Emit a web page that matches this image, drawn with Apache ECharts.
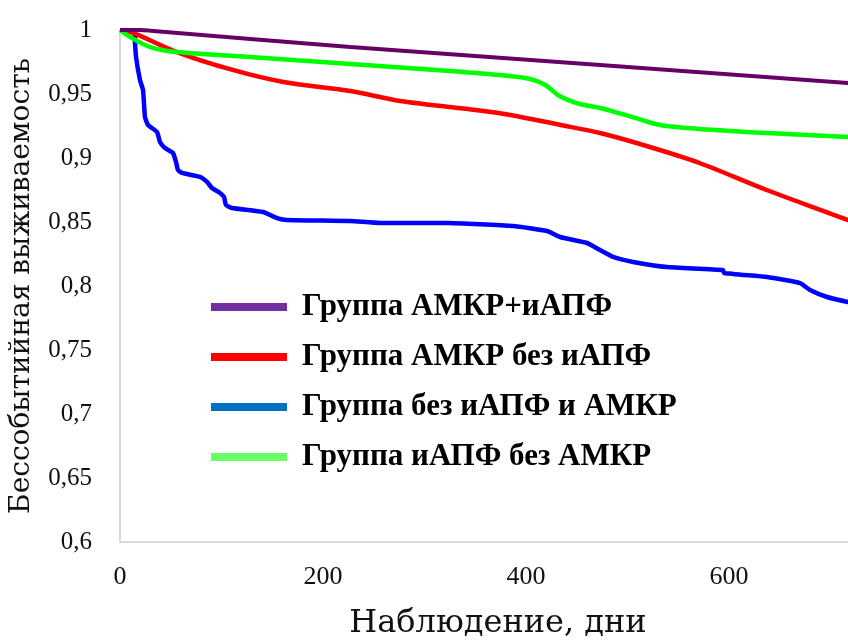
<!DOCTYPE html>
<html>
<head>
<meta charset="utf-8">
<script src="https://cdn.jsdelivr.net/npm/echarts@6/dist/echarts.min.js"></script>
<style>html,body{margin:0;padding:0;background:#fff;}#main{width:848px;height:644px;}</style>
</head>
<body>
<div id="main"></div>
<script>
// Series names
const seriesNames = ['Группа АМКР+иАПФ', 'Группа АМКР без иАПФ', 'Группа без иАПФ и АМКР', 'Группа иАПФ без АМКР'];
// [days, survival]
const groupAmkrAce = [[0,1],[20,1],[30,0.9995],[227,0.9867],[473,0.9727],[717,0.9586],[740,0.9573]];
const groupAmkrNoAce = [[0,1],[12.8,0.9977],[56,0.9828],[111,0.9688],[161,0.9594],[227,0.9523],[276,0.9445],[374,0.935],[434,0.9258],[473,0.9195],[522,0.9086],[571,0.8961],[637,0.875],[717,0.8516],[740,0.844]];
const groupNone = [[0,1],[14,0.9995],[14.8,0.9898],[15.8,0.9789],[19.7,0.9609],[22.7,0.9531],[24.6,0.932],[27.6,0.9258],[36.5,0.9203],[39.4,0.9125],[44.3,0.9078],[52.2,0.9039],[55.2,0.8969],[57.1,0.8906],[61.1,0.8883],[78.8,0.8852],[85.7,0.8813],[90.6,0.8766],[98.5,0.8727],[102.5,0.8695],[104.4,0.8633],[110.3,0.8609],[140.9,0.8578],[154.7,0.8531],[164.5,0.8516],[226.6,0.8508],[256.2,0.8492],[322.2,0.8492],[387.2,0.8469],[420.7,0.843],[433.5,0.8383],[460.1,0.8336],[472.9,0.8281],[485.7,0.8227],[505.4,0.8188],[538.9,0.8148],[594.1,0.8125],[595.1,0.8102],[637.4,0.807],[670,0.8023],[679.8,0.7969],[696.6,0.7914],[717.2,0.7875],[740,0.784]];
const groupAceNoAmkr = [[0,1],[9.9,0.9945],[29.6,0.9867],[56,0.9828],[128,0.9789],[227,0.9734],[325,0.968],[374,0.9648],[404,0.9617],[419,0.957],[433,0.9484],[453,0.9422],[473,0.9391],[505,0.932],[532,0.9258],[571,0.9227],[637,0.9195],[717,0.9164],[740,0.9158]];
// Axis ticks
const xTicks = { min: 0, max: 800, interval: 200 };
const yTicks = { min: 0.6, max: 1, interval: 0.05 };

const lineColors = ['#660066', '#ff0000', '#0000ff', '#00ff00'];
const legendColors = ['#7030a0', '#ff0000', '#0070c0', '#66ff66'];
const allData = [groupAmkrAce, groupAmkrNoAce, groupNone, groupAceNoAmkr];

const chart = echarts.init(document.getElementById('main'));
chart.setOption({
  animation: false,
  backgroundColor: '#fff',
  grid: { left: 120, top: 30, width: 812, height: 512, containLabel: false, outerBoundsMode: 'none' },
  legend: {
    orient: 'vertical',
    left: 206,
    top: 284,
    itemWidth: 76,
    itemHeight: 8,
    itemGap: 14,
    icon: 'rect',
    textStyle: { fontFamily: 'Liberation Serif', fontWeight: 'bold', fontSize: 31, color: '#000', lineHeight: 36, padding: [0, 0, 0, 10] },
    data: seriesNames.map((n, i) => ({ name: n, icon: 'rect', itemStyle: { color: legendColors[i], borderWidth: 0 } }))
  },
  xAxis: {
    type: 'value',
    min: xTicks.min, max: xTicks.max, interval: xTicks.interval,
    name: 'Наблюдение, дни',
    nameLocation: 'middle',
    nameGap: 66,
    nameTextStyle: { fontFamily: 'DejaVu Serif', fontSize: 32, color: '#111', padding: [0, 56, 0, 0] },
    axisLine: { show: true, lineStyle: { color: '#d9d9d9', width: 2 } },
    axisTick: { show: false },
    splitLine: { show: false },
    axisLabel: { fontFamily: 'Liberation Serif', fontSize: 26, color: '#111', margin: 22 }
  },
  yAxis: {
    type: 'value',
    min: yTicks.min, max: yTicks.max, interval: yTicks.interval,
    name: 'Бессобытийная выживаемость',
    nameLocation: 'middle',
    nameGap: 84,
    nameTextStyle: { fontFamily: 'DejaVu Serif', fontSize: 28, color: '#111' },
    axisLine: { show: true, lineStyle: { color: '#d9d9d9', width: 2 } },
    axisTick: { show: false },
    splitLine: { show: false },
    axisLabel: {
      fontFamily: 'Liberation Serif', fontSize: 25, color: '#111', margin: 28,
      formatter: v => String(+v.toFixed(2)).replace('.', ',')
    }
  },
  series: allData.map((d, i) => ({
    name: seriesNames[i],
    type: 'line',
    data: d,
    showSymbol: false,
    symbol: 'none',
    smooth: i === 2 ? 0.15 : 0.3,
    lineStyle: { color: lineColors[i], width: i === 0 ? 4 : 4.5 },
    itemStyle: { color: lineColors[i] },
    z: [4, 3, 2, 3][i]
  }))
});
</script>
</body>
</html>
